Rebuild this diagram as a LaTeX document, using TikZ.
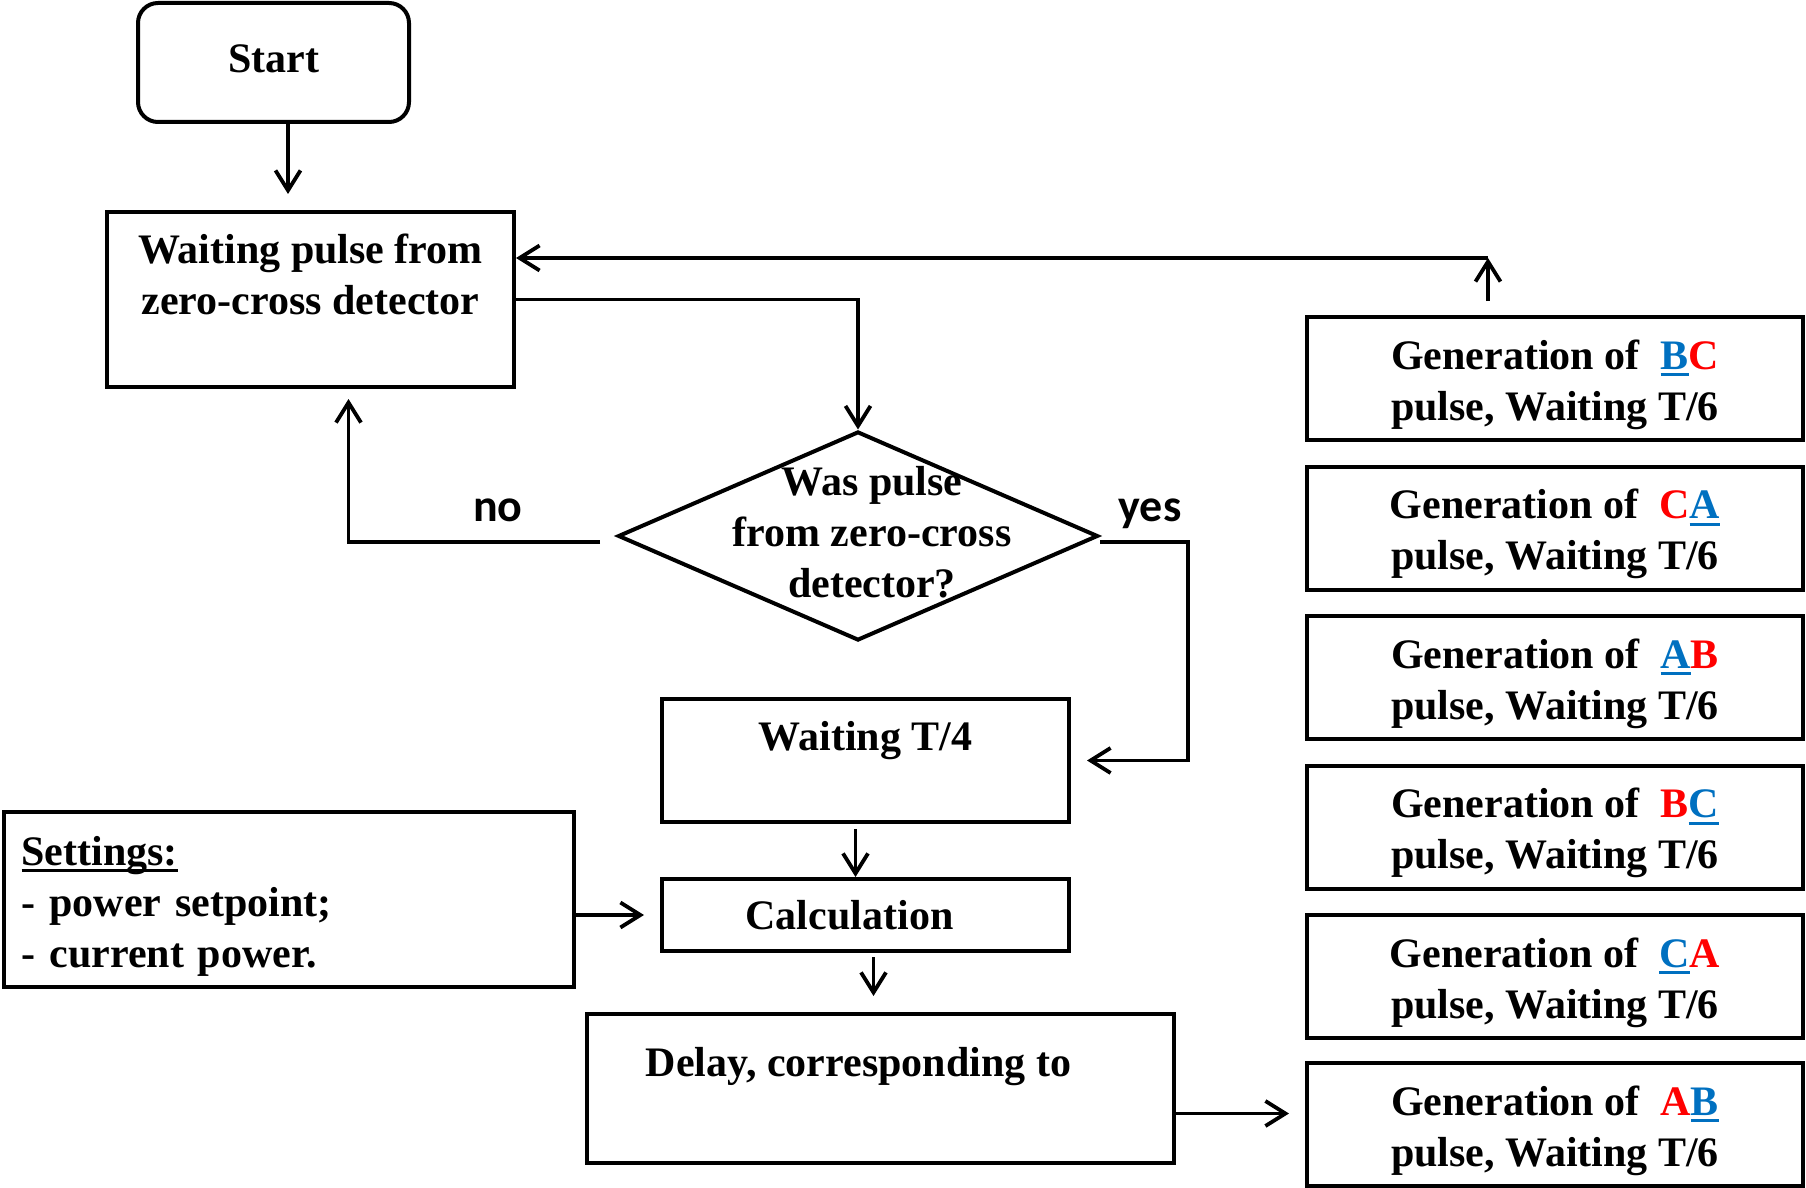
\documentclass[tikz,border=0pt]{standalone}
\usepackage{fontspec}
\setmainfont{Liberation Serif}
\newfontfamily\answerfont{Carlito}
\usetikzlibrary{shapes.geometric,arrows.meta}
\definecolor{phaseblue}{RGB}{0,112,192}
\definecolor{phasered}{RGB}{255,0,0}
% thick underline for the active phase
\newcommand{\undl}[1]{\sbox0{#1}\rlap{\rule[-3.4pt]{\wd0}{1.4pt}}\usebox0}
\newcommand{\bph}[1]{\textcolor{phaseblue}{\undl{#1}}}
\newcommand{\rph}[1]{\textcolor{phasered}{#1}}
% taller first line, pushes multi-line texts a little down
\newcommand{\lift}[1][21pt]{\rule{0pt}{#1}}
\tikzset{
        txt/.style={font=\fontsize{21}{25.5}\selectfont\bfseries, align=center},
        block/.style={txt, draw, line width=2pt, rectangle, inner sep=0pt},
        genbox/.style={block, minimum width=248pt, minimum height=61.5pt},
        flow/.style={line width=1.9pt, -{Straight Barb[length=10pt, width=12.5pt, line width=1.9pt]}},
        answer/.style={font=\answerfont\fontsize{23}{26}\selectfont\bfseries, anchor=base}
    }
\begin{document}
\begin{tikzpicture}[x=0.5pt,y=-0.5pt]
\useasboundingbox (0,0) rectangle (1806,1188);

% left column
\node[block, rounded corners=10pt, text depth=4pt, minimum width=135.5pt, minimum height=59.5pt] (start) at (273.5,62.5) {Start};
\node[block, minimum width=203.5pt, minimum height=87.5pt] (wait) at (310.5,299.5) {\lift[22.5pt]Waiting pulse from\\zero-cross detector\\\strut};
\node[block, align=left, text width=267pt, inner xsep=9pt, minimum height=87.5pt] (settings) at (288.5,899.5) {\lift\undl{Settings:}\\- power setpoint;\\- current power.};

% middle column
\node[draw, diamond, line width=2pt, minimum width=240pt, minimum height=104.5pt, inner sep=0pt,
      label={[txt, xshift=7pt, yshift=2pt]center:{Was pulse\\from zero-cross\\detector?}}] (dec) at (858,536) {};
\node[block, minimum width=203.5pt, minimum height=61.5pt] (quarter) at (865.5,760.5) {\lift[23.5pt]Waiting T/4\\\strut};
\node[block, minimum width=203.5pt, minimum height=36pt] (calc) at (865.5,915) {Calculation\hspace*{16pt}};
\node[block, minimum width=293.5pt, minimum height=74.5pt] (delay) at (880.5,1088.5) {\lift[21.5pt]Delay, corresponding to\hspace*{22pt}\\\strut};

% Text Node
\node[answer] (no) at (498,521) {no};
% Text Node
\node[answer] (yes) at (1150,521) {yes};

% right column: generation of pulses
\node[genbox] (gen1) at (1555,378.5) {\lift Generation of~~\bph{B}\rph{C}\\pulse, Waiting T/6};
\node[genbox] (gen2) at (1555,528) {\lift Generation of~~\rph{C}\bph{A}\\pulse, Waiting T/6};
\node[genbox] (gen3) at (1555,677.5) {\lift Generation of~~\bph{A}\rph{B}\\pulse, Waiting T/6};
\node[genbox] (gen4) at (1555,827) {\lift Generation of~~\rph{B}\bph{C}\\pulse, Waiting T/6};
\node[genbox] (gen5) at (1555,976.5) {\lift Generation of~~\bph{C}\rph{A}\\pulse, Waiting T/6};
\node[genbox] (gen6) at (1555,1124.5) {\lift Generation of~~\rph{A}\bph{B}\\pulse, Waiting T/6};

% connectors
\draw[flow, shorten >=8pt] ([xshift=7.25pt]start.south) -- ([xshift=7.25pt]start.south |- wait.north);
\draw[flow] (wait.east) -| (dec.north);
\draw[flow, shorten <=8pt, shorten >=5pt] ([yshift=-3pt]dec.west) -| ([xshift=19pt]wait.south);
\draw[flow, shorten >=8pt] ([yshift=-3pt]dec.east) -- ++(44pt,0) |- (quarter.east);
\draw[flow, shorten <=2.5pt] ([xshift=-5pt]quarter.south) -- ([xshift=-5pt]quarter.south |- calc.north);
\draw[flow, shorten <=2pt, shorten >=8pt] ([xshift=4pt]calc.south) -- ([xshift=4pt]calc.south |- delay.north);
\draw[flow, shorten >=8pt] (settings.east |- calc.west) -- (calc.west);
\draw[flow, shorten >=8pt] ([yshift=-12.5pt]delay.east) -- ([yshift=-12.5pt]delay.east -| gen6.west);

% return to waiting
\coordinate (back) at (1488,258);
\draw[flow, shorten <=7pt] ([xshift=-33.5pt]gen1.north) -- (back);
\draw[flow] (back) -- (back -| wait.east);

\end{tikzpicture}
\end{document}
